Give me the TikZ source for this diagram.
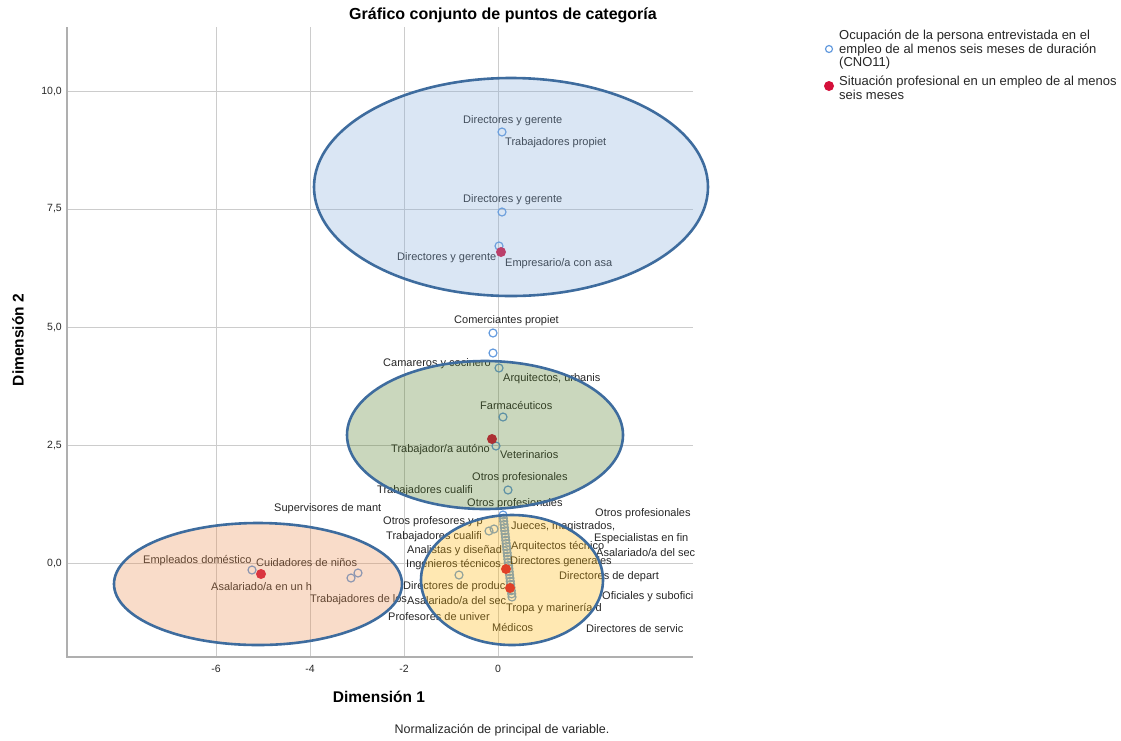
\documentclass[tikz,border=0pt]{standalone}
\usepackage{fontspec}
\setmainfont{Liberation Sans}
\usepackage{tikz}
\definecolor{rejilla}{RGB}{204,204,204}
\definecolor{ejeGris}{RGB}{175,175,175}
\definecolor{texto}{RGB}{38,38,38}
\definecolor{azulPunto}{RGB}{100,155,222}
\definecolor{rojoPunto}{RGB}{212,16,58}
\definecolor{bordeElipse}{RGB}{62,108,158}
\definecolor{azulFondo}{RGB}{132,172,218}
\definecolor{verdeFondo}{RGB}{80,122,35}
\definecolor{naranjaFondo}{RGB}{235,140,75}
\definecolor{amarilloFondo}{RGB}{255,180,0}
\tikzstyle{linea}  =[draw=rejilla, line width=0.8pt]
\tikzstyle{eje}    =[draw=ejeGris, line width=1.8pt]
\tikzstyle{ocup}   =[circle, draw=azulPunto, minimum size=8pt,
                    line width=1.2pt, inner sep=0pt, outer sep=0pt]
\tikzstyle{situ}   =[circle, fill=rojoPunto, minimum size=10pt,
                    inner sep=0pt, outer sep=0pt]
\tikzstyle{etiq}   =[anchor=west, inner sep=0pt, text=texto,
                    font=\fontsize{11}{12}\selectfont]
\tikzstyle{marca}  =[inner sep=0pt, text=texto,
                    font=\fontsize{10.5}{12}\selectfont]
\tikzstyle{elipse} =[draw=bordeElipse, line width=2.6pt, fill opacity=0.3]

\begin{document}
\begin{tikzpicture}[x=1pt,y=-1pt]
    \useasboundingbox (0,0) rectangle (1121,740);

    \foreach \v/\t [count=\k] in {0/{0,0},2.5/{2,5},5/{5,0},7.5/{7,5},10/{10,0}} {
        \draw[linea] (67,{563-47.2*\v}) -- (693,{563-47.2*\v});
        \node (ty\k)[marca, anchor=east] at (62,{563-47.2*\v}) {\t};
    }
    \foreach \v [count=\k] in {-6,-4,-2,0} {
        \draw[linea] ({498+47*\v},27) -- ({498+47*\v},657);
        \node (tx\k)[marca] at ({498+47*\v},669) {\v};
    }
    \draw[eje] (67,27) -- (67,657) -- (693,657);

    \foreach \x/\y [count=\k] in {502/132,502/212,499/246,493/333,493/353,
        499/368,503/417,496/446,508/490,489/531,494/529,459/575,
        252/570,351/578,358/573}
        \draw (\x,\y) node(o\k)[ocup]{};
    \foreach \k in {0,...,26}
        \draw ({503+9*\k/26},{515+82*\k/26}) node(c\k)[ocup]{};
    \foreach \x/\y [count=\k] in {501/252,492/439,506/569,510/588,261/574}
        \draw (\x,\y) node(r\k)[situ]{};

    \foreach \x/\y/\t [count=\k] in {
        463/121/Directores y gerente, 505/143/Trabajadores propiet,
        463/200/Directores y gerente, 397/258/Directores y gerente,
        505/264/{Empresario/a con asa}, 454/321/Comerciantes propiet,
        383/364/Camareros y cocinero, 503/379/{Arquitectos, urbanis},
        480/405/Farmacéuticos, 391/450/{Trabajador/a autóno},
        500/455/Veterinarios, 472/478/Otros profesionales,
        377/491/Trabajadores cualifi, 467/504/Otros profesionales,
        274/509/Supervisores de mant, 383/522/Otros profesores y p,
        386/537/Trabajadores cualifi, 407/551/Analistas y diseñad,
        406/565/Ingenieros técnicos, 403/587/Directores de produc,
        407/601/{Asalariado/a del sec}, 388/617/Profesores de univer,
        492/627/Médicos, 506/609/Tropa y marinería d,
        511/527/{Jueces, magistrados,}, 511/547/Arquitectos técnico,
        510/562/Directores generales, 559/577/Directores de depart,
        595/514/Otros profesionales, 594/539/Especialistas en fin,
        596/553/{Asalariado/a del sec}, 602/597/Oficiales y subofici,
        586/629/Directores de servic, 143/561/Empleados doméstico,
        256/563/Cuidadores de niños, 211/587/{Asalariado/a en un h},
        310/600/Trabajadores de los}
        \node (e\k)[etiq] at (\x,\y) {\t};

    \draw[elipse, fill=azulFondo] (511,187) ellipse [x radius=197, y radius=109];
    \draw[elipse, fill=verdeFondo] (485,435) ellipse [x radius=138, y radius=74];
    \draw[elipse, fill=naranjaFondo] (258,584) ellipse [x radius=144, y radius=61];
    \draw[elipse, fill=amarilloFondo] (512,580) ellipse [x radius=91, y radius=65];

    \node (titulo)[text=black, font=\fontsize{16}{18}\selectfont\bfseries]
        at (503,15) {Gráfico conjunto de puntos de categoría};
    \node (dim1)[text=black, font=\fontsize{15.5}{18}\selectfont\bfseries]
        at (379,697) {Dimensión 1};
    \node (dim2)[text=black, rotate=90, font=\fontsize{15.5}{18}\selectfont\bfseries]
        at (18,340) {Dimensión 2};
    \node (nota)[text=texto, font=\fontsize{12.5}{14}\selectfont]
        at (502,730) {Normalización de principal de variable.};

    \draw (829,49) node(legOcup)[ocup, minimum size=7pt]{};
    \node (legTxt1)[anchor=north west, inner sep=0pt, align=left, text=texto,
        font=\fontsize{13}{13.5}\selectfont] at (839,30)
        {Ocupación de la persona entrevistada en el\\
         empleo de al menos seis meses de duración\\(CNO11)};
    \draw (829,86) node(legSitu)[situ]{};
    \node (legTxt2)[anchor=north west, inner sep=0pt, align=left, text=texto,
        font=\fontsize{13}{13.5}\selectfont] at (839,76)
        {Situación profesional en un empleo de al menos\\seis meses};
\end{tikzpicture}
\end{document}
